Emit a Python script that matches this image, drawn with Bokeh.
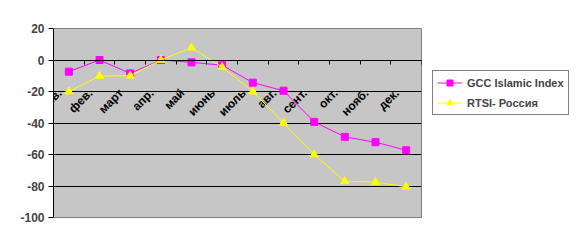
from math import pi
from bokeh.plotting import figure
from bokeh.layouts import row
from bokeh.core.properties import value
from bokeh.models import (Range1d, LinearAxis, FixedTicker, Legend, LegendItem,
                          ColumnDataSource)
from bokeh.embed import file_html
from bokeh.resources import INLINE

months = ["янв.", "фев.", "март", "апр.", "май", "июнь", "июль", "авг.",
          "сент.", "окт.", "нояб.", "дек."]
gcc = [-7.4, 0, -8.5, 0, -1.5, -3.3, -14.4, -19.5, -39.3, -48.8, -52.2, -57.3]
rtsi = [-20, -10.2, -10, 0, 7.8, -4.5, -20, -40, -60, -77, -77.5, -80.5]
y_ticks = [20, 0, -20, -40, -60, -80, -100]
series_names = ["GCC Islamic Index", "RTSI- Россия"]
category_axis_at = 0

xs = [i + 0.5 for i in range(len(months))]
src = ColumnDataSource(dict(x=xs, gcc=gcc, rtsi=rtsi))
lab_src = ColumnDataSource(dict(x=xs, y=[category_axis_at] * len(months), text=months))

FONT = "Liberation Sans"
MAG = "#ff00ff"
YEL = "#ffff00"

p = figure(width=425, height=245, output_backend="svg", toolbar_location=None,
           x_range=Range1d(0, 12), y_range=Range1d(-100, 20),
           min_border_left=53, min_border_right=4, min_border_top=28,
           min_border_bottom=28, x_axis_location=None, y_axis_location=None)
p.background_fill_color = "#c6c6c6"
p.border_fill_color = "white"
p.outline_line_color = "#808080"
p.outline_line_width = 1

p.xgrid.visible = False
p.ygrid.ticker = FixedTicker(ticks=y_ticks)
p.ygrid.grid_line_color = "black"
p.ygrid.grid_line_width = 1

yax = LinearAxis(ticker=FixedTicker(ticks=y_ticks),
                 major_label_overrides={t: str(t) for t in y_ticks})
yax.axis_line_color = "black"
yax.major_tick_line_color = "black"
yax.major_tick_out = 5
yax.major_tick_in = 0
yax.minor_tick_line_color = None
yax.major_label_text_font = FONT
yax.major_label_text_font_style = "bold"
yax.major_label_text_font_size = "12px"
yax.major_label_standoff = 4
p.add_layout(yax, "left")

bounds = list(range(len(months) + 1))
xax_ticks = LinearAxis(ticker=FixedTicker(ticks=bounds), fixed_location=category_axis_at,
                       major_label_overrides={b: "" for b in bounds})
xax_ticks.axis_line_color = "black"
xax_ticks.major_tick_line_color = "black"
xax_ticks.major_tick_out = 4
xax_ticks.major_tick_in = 0
xax_ticks.minor_tick_line_color = None
p.add_layout(xax_ticks, "below")

p.text("x", "y", text="text", source=lab_src, angle=pi / 4,
       text_align="right", text_baseline="top", x_offset=-14, y_offset=26,
       text_font=value(FONT), text_font_style="bold", text_font_size="12px",
       text_color="black")

p.line("x", "gcc", source=src, line_color=MAG, line_width=1)
p.scatter("x", "gcc", source=src, marker="square", size=7,
          fill_color=MAG, line_color=MAG)
p.line("x", "rtsi", source=src, line_color=YEL, line_width=1)
p.scatter("x", "rtsi", source=src, marker="triangle", size=8,
          fill_color=YEL, line_color=YEL)

# legend panel (same data, drawn out of view; only the legend shows)
q = figure(width=158, height=245, output_backend="svg", toolbar_location=None,
           x_range=Range1d(1000, 1001), y_range=Range1d(1000, 1001),
           min_border=0, x_axis_location=None, y_axis_location=None)
q.outline_line_color = None
q.xgrid.visible = False
q.ygrid.visible = False
q.background_fill_color = "white"
ql1 = q.line("x", "gcc", source=src, line_color=MAG, line_width=1)
qs1 = q.scatter("x", "gcc", source=src, marker="square", size=7,
                fill_color=MAG, line_color=MAG)
ql2 = q.line("x", "rtsi", source=src, line_color=YEL, line_width=1)
qs2 = q.scatter("x", "rtsi", source=src, marker="triangle", size=8,
                fill_color=YEL, line_color=YEL)

legend = Legend(items=[LegendItem(label=series_names[0], renderers=[ql1, qs1]),
                       LegendItem(label=series_names[1], renderers=[ql2, qs2])],
                location=(7, 102))
legend.label_text_font = FONT
legend.label_text_font_size = "11px"
legend.label_text_font_style = "bold"
legend.border_line_color = "black"
legend.border_line_width = 1
legend.background_fill_color = "white"
legend.padding = 4
legend.spacing = 5
legend.label_height = 15
legend.glyph_height = 15
legend.glyph_width = 25
legend.label_standoff = 5
legend.margin = 0
q.add_layout(legend, "center")

layout = row(p, q)
open("out.html", "w").write(file_html(layout, INLINE))
